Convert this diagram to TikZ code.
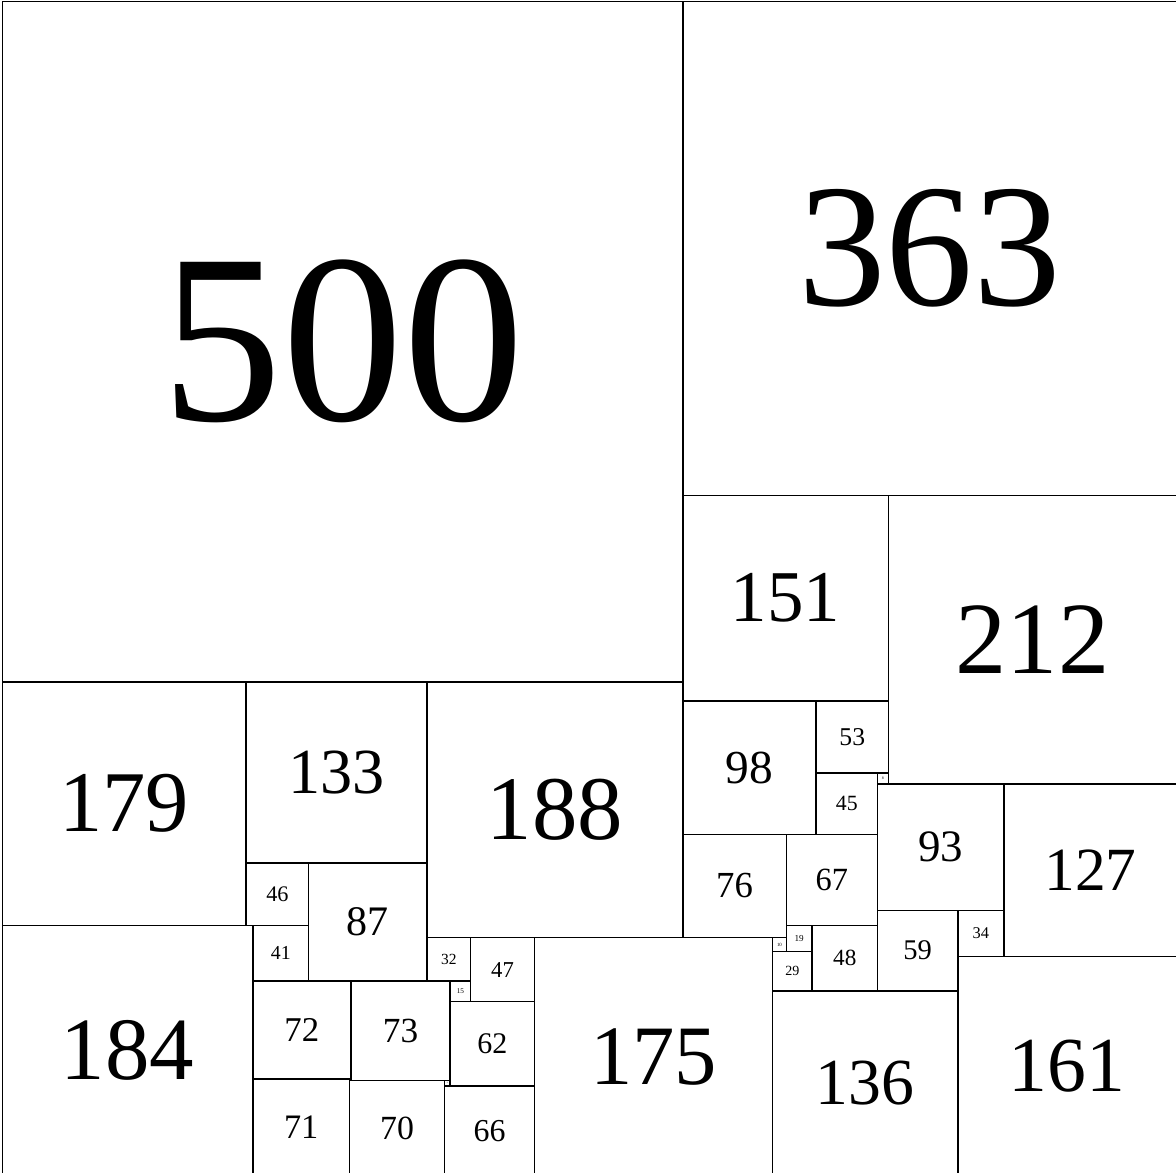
\documentclass[tikz,border=0pt]{standalone}
\usepackage{fontspec}
\setmainfont{Liberation Serif}
\begin{document}
\begin{tikzpicture}[x=0.68pt,y=-0.68pt,
  sq/.style={draw=black, line width=0.75pt, inner sep=0pt, outer sep=0pt}]
\useasboundingbox (-1.84,-1.1) rectangle (862.4,860.9);
\clip (-1.84,-1.1) rectangle (862.4,860.9);
\foreach \x/\y/\s in {0/0/500, 500/0/363, 500/363/151, 651/363/212,
  0/500/179, 179/500/133, 312/500/188, 500/514/98, 598/514/53, 598/567/45,
  643/567/8, 643/575/93, 736/575/127, 500/612/76, 576/612/67, 179/633/46,
  225/633/87, 184/679/41, 0/679/184, 184/720/72, 184/792/71, 256/720/73,
  255/793/70, 312/688/32, 344/688/47, 329/720/15, 329/735/62, 325/797/66,
  325/793/4, 391/688/175, 566/727/136, 702/702/161, 566/688/10, 576/679/19,
  566/698/29, 595/679/48, 643/668/59, 702/668/34}{
  \pgfmathsetmacro\fs{0.2415*\s}
  \node[sq, minimum size=\s*0.68pt, font=\fontsize{\fs pt}{\fs pt}\selectfont]
    (q\s) at (\x+\s/2,\y+\s/2) {\s};
}
\node[sq, minimum size=0.68pt] (q1) at (255.5,792.5) {};
\end{tikzpicture}
\end{document}
